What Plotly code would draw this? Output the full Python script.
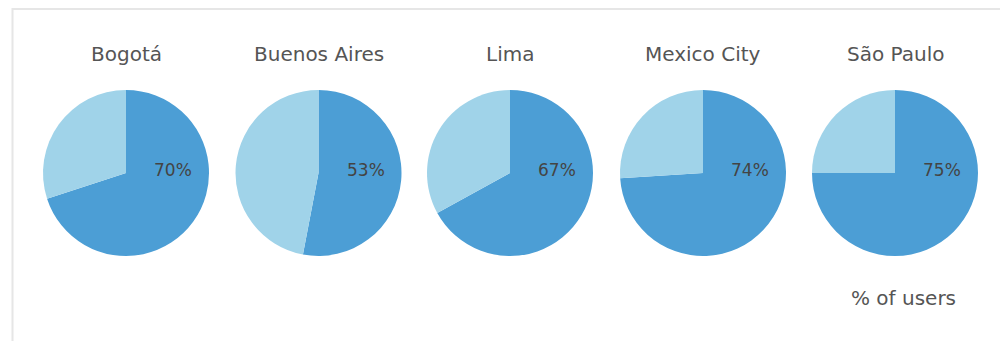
import plotly.graph_objects as go

# Share of users per city
cities = ["Bogotá", "Buenos Aires", "Lima", "Mexico City", "São Paulo"]
user_share = [70, 53, 67, 74, 75]
footnote = "% of users"

W, H = 1000, 341
DARK = "#4c9ed5"
LIGHT = "#a0d3e9"
FONT = "'DejaVu Sans', sans-serif"

# Pie layout in pixels (centres, radius)
centers_x = [126, 318.5, 510, 703, 895]
center_y = 173
radius = 83

fig = go.Figure()
annotations = []
for city, share, cx in zip(cities, user_share, centers_x):
    x0, x1 = (cx - radius) / W, (cx + radius) / W
    y0, y1 = 1 - (center_y + radius) / H, 1 - (center_y - radius) / H
    fig.add_trace(go.Pie(
        values=[share, 100 - share],
        labels=["Users", "Others"],
        sort=False,
        direction="clockwise",
        rotation=0,
        marker=dict(colors=[DARK, LIGHT], line=dict(width=0)),
        textinfo="none",
        hoverinfo="label+percent",
        showlegend=False,
        domain=dict(x=[x0, x1], y=[y0, y1]),
    ))
    # City title above each pie
    annotations.append(dict(
        text=city, x=cx / W, y=1 - 54 / H, xref="paper", yref="paper",
        showarrow=False, xanchor="center", yanchor="middle",
        font=dict(family=FONT, size=20, color="#555555"),
    ))
    # Value label inside the dark slice
    annotations.append(dict(
        text=f"{share}%", x=(cx + 47) / W, y=1 - 170 / H,
        xref="paper", yref="paper", showarrow=False,
        xanchor="center", yanchor="middle",
        font=dict(family=FONT, size=17, color="#444444"),
    ))

annotations.append(dict(
    text=footnote, x=903 / W, y=1 - 298 / H, xref="paper", yref="paper",
    showarrow=False, xanchor="center", yanchor="middle",
    font=dict(family=FONT, size=20, color="#555555"),
))

# Light frame along the top and left edges
shapes = [
    dict(type="line", xref="paper", yref="paper",
         x0=12 / W, x1=1, y0=1 - 9 / H, y1=1 - 9 / H,
         line=dict(color="#e6e6e6", width=2)),
    dict(type="line", xref="paper", yref="paper",
         x0=12.5 / W, x1=12.5 / W, y0=0, y1=1 - 8 / H,
         line=dict(color="#e6e6e6", width=2)),
]

fig.update_layout(
    width=W, height=H,
    margin=dict(l=0, r=0, t=0, b=0),
    paper_bgcolor="white", plot_bgcolor="white",
    annotations=annotations, shapes=shapes,
)

fig.write_html("out.html")
